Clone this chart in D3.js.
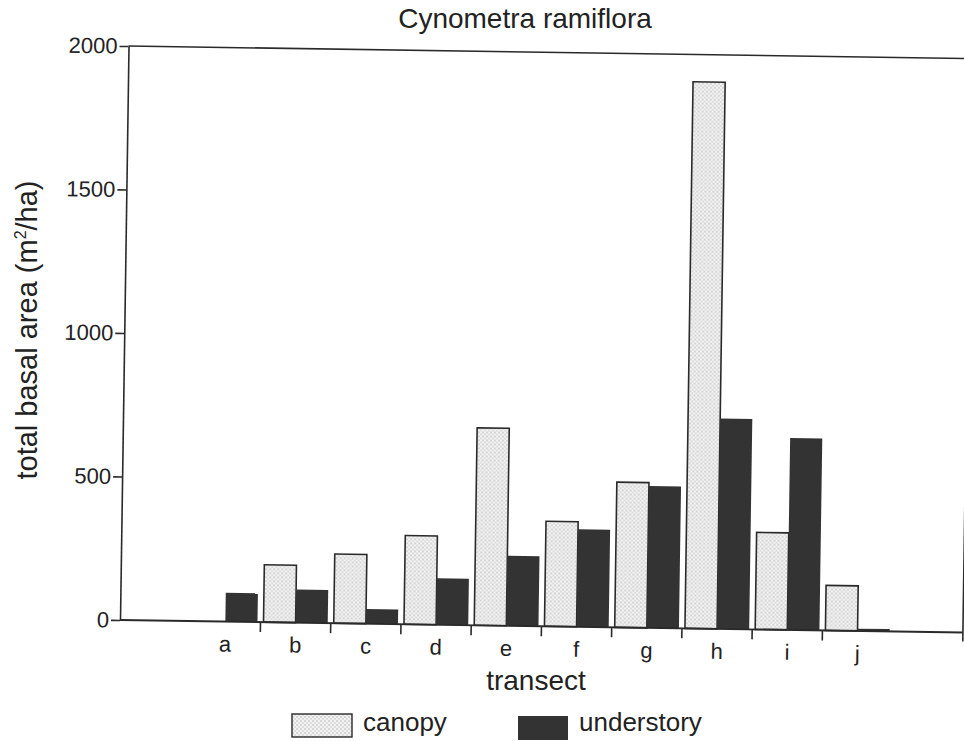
<!DOCTYPE html>
<html>
<head>
<meta charset="utf-8">
<script src="https://cdn.jsdelivr.net/npm/d3@7"></script>
<style>
  body { margin: 0; background: #fff; }
  svg { font-family: "Liberation Sans", Arial, Helvetica, sans-serif; }
</style>
</head>
<body>
<div id="chart"></div>
<script>
// data
const transects = ["a", "b", "c", "d", "e", "f", "g", "h", "i", "j"];
const canopy = [0, 200, 241, 309, 688, 366, 506, 1905, 338, 157];
const understory = [100, 115, 51, 162, 244, 340, 494, 733, 669, 8];
const yTicks = [0, 500, 1000, 1500, 2000];
const seriesNames = ["canopy", "understory"];

const W = 964, H = 741;
const origin = { x: 120, y: 620 };
const plotW = 843, plotH = 574;
const tilt = 0.85; // scan is slightly rotated

const svg = d3.select("#chart").append("svg")
    .attr("width", W)
    .attr("height", H);

const defs = svg.append("defs");
const pat = defs.append("pattern")
    .attr("id", "dots")
    .attr("width", 4)
    .attr("height", 4)
    .attr("patternUnits", "userSpaceOnUse");
pat.append("rect").attr("width", 4).attr("height", 4).attr("fill", "#f2f2f2");
pat.append("circle").attr("cx", 1).attr("cy", 1).attr("r", 0.8).attr("fill", "#b4b4b4");
pat.append("circle").attr("cx", 3).attr("cy", 3).attr("r", 0.8).attr("fill", "#c4c4c4");

// plot group, rotated like the scan
const g = svg.append("g")
    .attr("transform", `rotate(${tilt},${origin.x},${origin.y}) translate(${origin.x},${origin.y - plotH})`);

const slots = ["_start"].concat(transects, ["_end"]);
const x = d3.scaleBand()
    .domain(slots)
    .range([0, plotW])
    .padding(0);

const xInner = d3.scaleBand()
    .domain(seriesNames)
    .range([3, x.bandwidth() - 3])
    .padding(0);

const y = d3.scaleLinear()
    .domain([0, 2000])
    .range([plotH, 0]);

const rows = transects.map((t, i) => ({ t, canopy: canopy[i], understory: understory[i] }));

// bars
const groups = g.selectAll(".grp")
    .data(rows)
    .enter().append("g")
    .attr("transform", d => `translate(${x(d.t)},0)`);

groups.filter(d => d.canopy > 0).append("rect")
    .attr("x", xInner("canopy"))
    .attr("y", d => y(d.canopy))
    .attr("width", xInner.bandwidth())
    .attr("height", d => y(0) - y(d.canopy))
    .attr("fill", "url(#dots)")
    .attr("stroke", "#2a2a2a")
    .attr("stroke-width", 1.6);

groups.append("rect")
    .attr("x", xInner("understory"))
    .attr("y", d => y(d.understory))
    .attr("width", xInner.bandwidth())
    .attr("height", d => y(0) - y(d.understory))
    .attr("fill", "#333");

// y axis
const yAxis = g.append("g")
    .call(d3.axisLeft(y).tickValues(yTicks).tickFormat(d3.format("d"))
        .tickSize(9).tickPadding(2).tickSizeOuter(0));
yAxis.select(".domain").attr("stroke", "#2a2a2a").attr("stroke-width", 1.6);
yAxis.selectAll(".tick line").attr("stroke", "#2a2a2a").attr("stroke-width", 1.6);
yAxis.selectAll(".tick text")
    .attr("font-size", 22)
    .attr("fill", "#222")
    .attr("font-family", "Liberation Sans, Arial, sans-serif");

// top frame line
g.append("line")
    .attr("x1", 0).attr("x2", plotW + 5)
    .attr("y1", y(2000)).attr("y2", y(2000))
    .attr("stroke", "#2a2a2a").attr("stroke-width", 1.6);

// baseline
g.append("line")
    .attr("x1", 0).attr("x2", plotW)
    .attr("y1", y(0)).attr("y2", y(0))
    .attr("stroke", "#2a2a2a").attr("stroke-width", 1.8);

// right frame (only lower part visible in scan)
g.append("line")
    .attr("x1", plotW).attr("x2", plotW)
    .attr("y1", y(0) + 9).attr("y2", y(440))
    .attr("stroke", "#2a2a2a").attr("stroke-width", 1.6);

// x ticks at band boundaries between transects
const boundaries = transects.slice(1).map(t => x(t));
g.selectAll(".xtick")
    .data(boundaries)
    .enter().append("line")
    .attr("x1", d => d).attr("x2", d => d)
    .attr("y1", y(0)).attr("y2", y(0) + 10)
    .attr("stroke", "#2a2a2a").attr("stroke-width", 1.6);

// x labels
g.selectAll(".xlab")
    .data(transects)
    .enter().append("text")
    .attr("x", d => x(d) + x.bandwidth() / 2)
    .attr("y", y(0) + 30)
    .attr("text-anchor", "middle")
    .attr("font-size", 22)
    .attr("fill", "#222")
    .text(d => d);

// title
svg.append("text")
    .attr("x", 525)
    .attr("y", 28)
    .attr("text-anchor", "middle")
    .attr("font-size", 28)
    .attr("fill", "#222")
    .text("Cynometra ramiflora");

// x title
svg.append("text")
    .attr("x", 536)
    .attr("y", 690)
    .attr("text-anchor", "middle")
    .attr("font-size", 28)
    .attr("fill", "#222")
    .text("transect");

// y title
const yt = svg.append("text")
    .attr("transform", "translate(37,330) rotate(-90)")
    .attr("text-anchor", "middle")
    .attr("font-size", 29)
    .attr("fill", "#222");
yt.append("tspan").text("total basal area (m");
yt.append("tspan").attr("font-size", 16).attr("dy", -11).text("2");
yt.append("tspan").attr("dy", 11).text("/ha)");

// legend
const legend = [
    { name: "canopy", x: 292, y: 714, w: 60, h: 23, fill: "url(#dots)", stroke: "#2a2a2a" },
    { name: "understory", x: 518, y: 716, w: 50, h: 24, fill: "#333", stroke: "none" }
];
const lg = svg.selectAll(".leg")
    .data(legend)
    .enter().append("g");
lg.append("rect")
    .attr("x", d => d.x).attr("y", d => d.y)
    .attr("width", d => d.w).attr("height", d => d.h)
    .attr("fill", d => d.fill)
    .attr("stroke", d => d.stroke)
    .attr("stroke-width", 1.4);
lg.append("text")
    .attr("x", d => d.x + d.w + 11)
    .attr("y", 731)
    .attr("font-size", 26)
    .attr("fill", "#222")
    .text(d => d.name);
</script>
</body>
</html>
